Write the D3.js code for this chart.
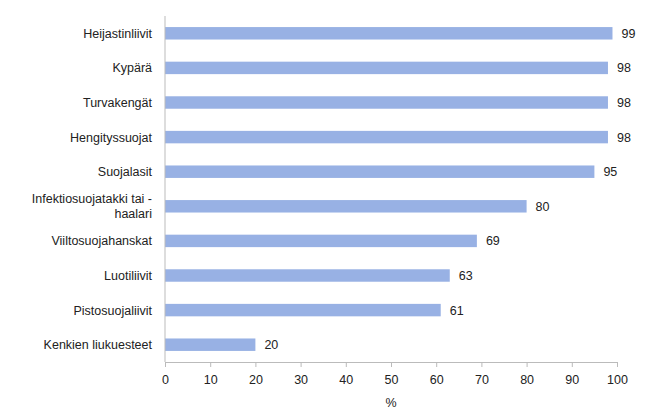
<!DOCTYPE html><html><head><meta charset="utf-8"><script src="https://cdn.jsdelivr.net/npm/d3@7"></script>
<style>body{margin:0;background:#fff}text{font-family:Arial,"Liberation Sans",sans-serif}</style></head><body>
<svg id="c" width="652" height="416"></svg>
<script>
const categories=["Heijastinliivit","Kypärä","Turvakengät","Hengityssuojat","Suojalasit","Infektiosuojatakki tai -\nhaalari","Viiltosuojahanskat","Luotiliivit","Pistosuojaliivit","Kenkien liukuesteet"];
const values=[99,98,98,98,95,80,69,63,61,20];
const ticks=[0,10,20,30,40,50,60,70,80,90,100];
const svg=d3.select("#c");
const x=d3.scaleLinear().domain([0,100]).range([165,617]);
const y=d3.scaleBand().domain(categories).range([16,362]).paddingInner(0.64).paddingOuter(0.32);
svg.selectAll("rect").data(values).join("rect").attr("x",x(0)).attr("y",(d,i)=>y(categories[i])).attr("height",y.bandwidth()).attr("width",d=>x(d)-x(0)).attr("fill","#98b1e4");
svg.selectAll(".v").data(values).join("text").attr("x",d=>x(d)+9).attr("y",(d,i)=>y(categories[i])+y.bandwidth()/2+4.5).attr("font-size",12.5).attr("fill","#222").text(d=>d);
categories.forEach(c=>{const lines=c.split("\n");const cy=y(c)+y.bandwidth()/2;
 lines.forEach((l,j)=>svg.append("text").attr("x",152).attr("y",cy+4.5+(j-(lines.length-1)/2)*15).attr("text-anchor","end").attr("font-size",12.5).attr("fill","#222").text(l));});
svg.append("line").attr("x1",165).attr("x2",165).attr("y1",16).attr("y2",362).attr("stroke","#bbb");
const ax=svg.append("g").attr("transform","translate(0,362)").call(d3.axisBottom(x).tickValues(ticks).tickSize(5).tickPadding(8));
ax.select(".domain").attr("stroke","#bbb");ax.selectAll("line").attr("stroke","#bbb");
ax.selectAll("text").attr("font-size",12.5).attr("fill","#222").attr("font-family","Arial,'Liberation Sans',sans-serif");
svg.append("text").attr("x",391).attr("y",407).attr("text-anchor","middle").attr("font-size",12.5).attr("fill","#222").text("%");
</script></body></html>
